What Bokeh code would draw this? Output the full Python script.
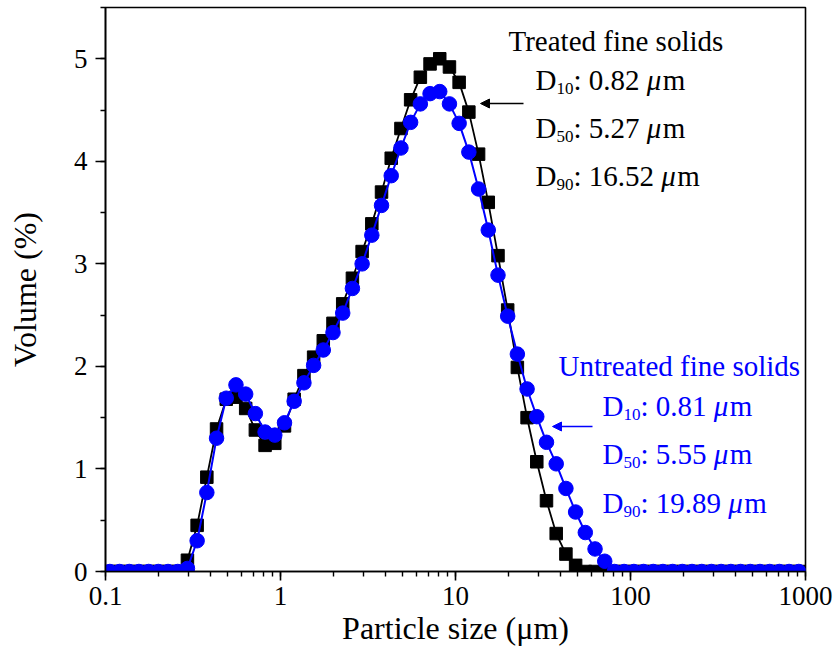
from bokeh.plotting import figure
from bokeh.models import Label, Arrow, NormalHead, LogTicker, SingleIntervalTicker, CustomJSTickFormatter, ColumnDataSource
from bokeh.embed import file_html
from bokeh.resources import INLINE

# Particle size bins (um)
size_um = [0.1059, 0.1203, 0.1367, 0.1552, 0.1764, 0.2004, 0.2277, 0.2587, 0.2939, 0.3339,
           0.3794, 0.4311, 0.4898, 0.5565, 0.6324, 0.7185, 0.8164, 0.9276, 1.054, 1.197,
           1.361, 1.546, 1.756, 1.995, 2.267, 2.576, 2.927, 3.325, 3.778, 4.293,
           4.878, 5.541, 6.297, 7.155, 8.128, 9.235, 10.49, 11.92, 13.55, 15.39,
           17.49, 19.87, 22.57, 25.65, 29.14, 33.11, 37.63, 42.75, 48.57, 55.18,
           62.71, 71.24, 80.95, 91.95, 104.5, 118.7, 134.9, 153.2, 174.1, 197.8,
           224.7, 255.4, 290.1, 329.6, 374.5, 425.5, 483.4, 549.3, 624.2, 709.1,
           805.8, 915.5]

# Volume (%) - treated fine solids (black squares)
treated = [0, 0, 0, 0, 0, 0, 0, 0,
           0.11, 0.45, 0.92, 1.39, 1.68, 1.70, 1.59, 1.38, 1.23, 1.25,
           1.42, 1.68, 1.91, 2.09, 2.25, 2.42, 2.61, 2.86, 3.12, 3.39,
           3.70, 4.03, 4.32, 4.60, 4.82, 4.95, 5.00, 4.92, 4.77, 4.48,
           4.07, 3.60, 3.08, 2.55, 1.99, 1.50, 1.07, 0.69, 0.37, 0.17, 0.06,
           0, 0, 0, 0, 0, 0, 0, 0, 0, 0, 0, 0, 0, 0, 0, 0, 0, 0, 0, 0, 0, 0, 0]

# Volume (%) - untreated fine solids (blue circles)
untreated = [0, 0, 0, 0, 0, 0, 0, 0,
             0.03, 0.30, 0.77, 1.30, 1.69, 1.82, 1.73, 1.54, 1.36, 1.33,
             1.45, 1.66, 1.84, 2.01, 2.16, 2.33, 2.52, 2.76, 3.00, 3.28,
             3.57, 3.86, 4.13, 4.38, 4.56, 4.66, 4.68, 4.56, 4.37, 4.09,
             3.73, 3.33, 2.89, 2.49, 2.12, 1.78, 1.51, 1.26, 1.05, 0.81,
             0.58, 0.38, 0.22, 0.10,
             0, 0, 0, 0, 0, 0, 0, 0, 0, 0, 0, 0, 0, 0, 0, 0, 0, 0, 0, 0]

treated_title = "Treated fine solids"
treated_stats = [("10", ": 0.82"), ("50", ": 5.27"), ("90", ": 16.52")]
untreated_title = "Untreated fine solids"
untreated_stats = [("10", ": 0.81"), ("50", ": 5.55"), ("90", ": 19.89")]

FONT = "Liberation Serif"
BLUE = "#0000FF"

# frame geometry in pixels
FL, FR, FT, FB = 105, 805, 7, 571
XMIN, XMAX, YMIN, YMAX = 0.1, 1000, 0, 5.5
DEC = (FR - FL) / 4.0
YPX = (FB - FT) / (YMAX - YMIN)

# approximate Times-metric advance widths (em)
CW = {":": 0.278, " ": 0.25, ".": 0.25}


def text_w(s, size):
    return sum(CW.get(c, 0.5) for c in s) * size


def px2x(px):
    return 10 ** ((px - FL) / DEC - 1)


def py2y(py):
    return (FB - py) / YPX


p = figure(width=836, height=655, x_axis_type="log", x_range=(XMIN, XMAX), y_range=(YMIN, YMAX),
           output_backend="svg", toolbar_location=None, title=None,
           min_border_left=FL, min_border_right=836 - FR, min_border_top=FT, min_border_bottom=655 - FB)
p.background_fill_color = "white"
p.border_fill_color = "white"
p.outline_line_color = "black"
p.outline_line_width = 1.6
p.xgrid.visible = False
p.ygrid.visible = False

p.xaxis.ticker = LogTicker(num_minor_ticks=10)
p.xaxis.formatter = CustomJSTickFormatter(code="return String(parseFloat(tick.toPrecision(6)));")
p.yaxis.ticker = SingleIntervalTicker(interval=1, num_minor_ticks=2)

for ax in (p.xaxis[0], p.yaxis[0]):
    ax.axis_line_width = 1.6
    ax.major_tick_line_width = 1.6
    ax.minor_tick_line_width = 1.4
    ax.major_tick_in = 0
    ax.minor_tick_in = 0
    ax.major_label_text_font = FONT
    ax.major_label_text_font_size = "27px"
    ax.major_label_text_color = "black"
    ax.axis_label_text_font = FONT
    ax.axis_label_text_font_size = "32px"
    ax.axis_label_text_font_style = "normal"
    ax.axis_label_text_color = "black"

p.xaxis.major_tick_out = 9
p.xaxis.minor_tick_out = 5
p.xaxis.major_label_standoff = 6
p.xaxis.axis_label = "Particle size (μm)"
p.xaxis.axis_label_standoff = 2

p.yaxis.major_tick_out = 10
p.yaxis.minor_tick_out = 5
p.yaxis.major_label_standoff = 8
p.yaxis.axis_label = "Volume (%)"
p.yaxis.axis_label_standoff = 28

src = ColumnDataSource(dict(x=size_um, t=treated, u=untreated))
p.line("x", "t", source=src, line_color="black", line_width=1.8)
p.scatter("x", "t", source=src, marker="square", size=12.5, fill_color="black", line_color="black")
p.line("x", "u", source=src, line_color=BLUE, line_width=2)
p.scatter("x", "u", source=src, marker="circle", size=14.5, fill_color=BLUE, line_color=BLUE)


def label(px, py, text, size, color, style="normal"):
    p.add_layout(Label(x=px2x(px), y=py2y(py), text=text, text_font=FONT,
                       text_font_size=f"{size}px", text_color=color, text_font_style=style,
                       text_align="left", text_baseline="alphabetic"))


def block(title, stats, tx, ty, dx, dys, color):
    label(tx, ty, title, 29, color)
    for (sub, rest), dy in zip(stats, dys):
        label(dx, dy, "D", 29, color)
        label(dx + 21, dy + 9, sub, 17, color)
        label(dx + 38, dy, rest, 29, color)
        mx = dx + 38 + text_w(rest + " ", 29)
        label(mx, dy, "μ", 29, color, "italic")
        label(mx + 16, dy, "m", 29, color)


block(treated_title, treated_stats, 508, 40, 535, [79, 127, 175], "black")
block(untreated_title, untreated_stats, 558, 365, 602, [405, 453, 502], BLUE)

p.add_layout(Arrow(x_start=px2x(523), y_start=py2y(103), x_end=px2x(480), y_end=py2y(103),
                   line_color="black", line_width=1.6,
                   end=NormalHead(size=9, fill_color="black", line_color="black")))
p.add_layout(Arrow(x_start=px2x(592), y_start=py2y(426), x_end=px2x(552), y_end=py2y(426),
                   line_color=BLUE, line_width=1.6,
                   end=NormalHead(size=9, fill_color=BLUE, line_color=BLUE)))

open("out.html", "w").write(file_html(p, INLINE))
